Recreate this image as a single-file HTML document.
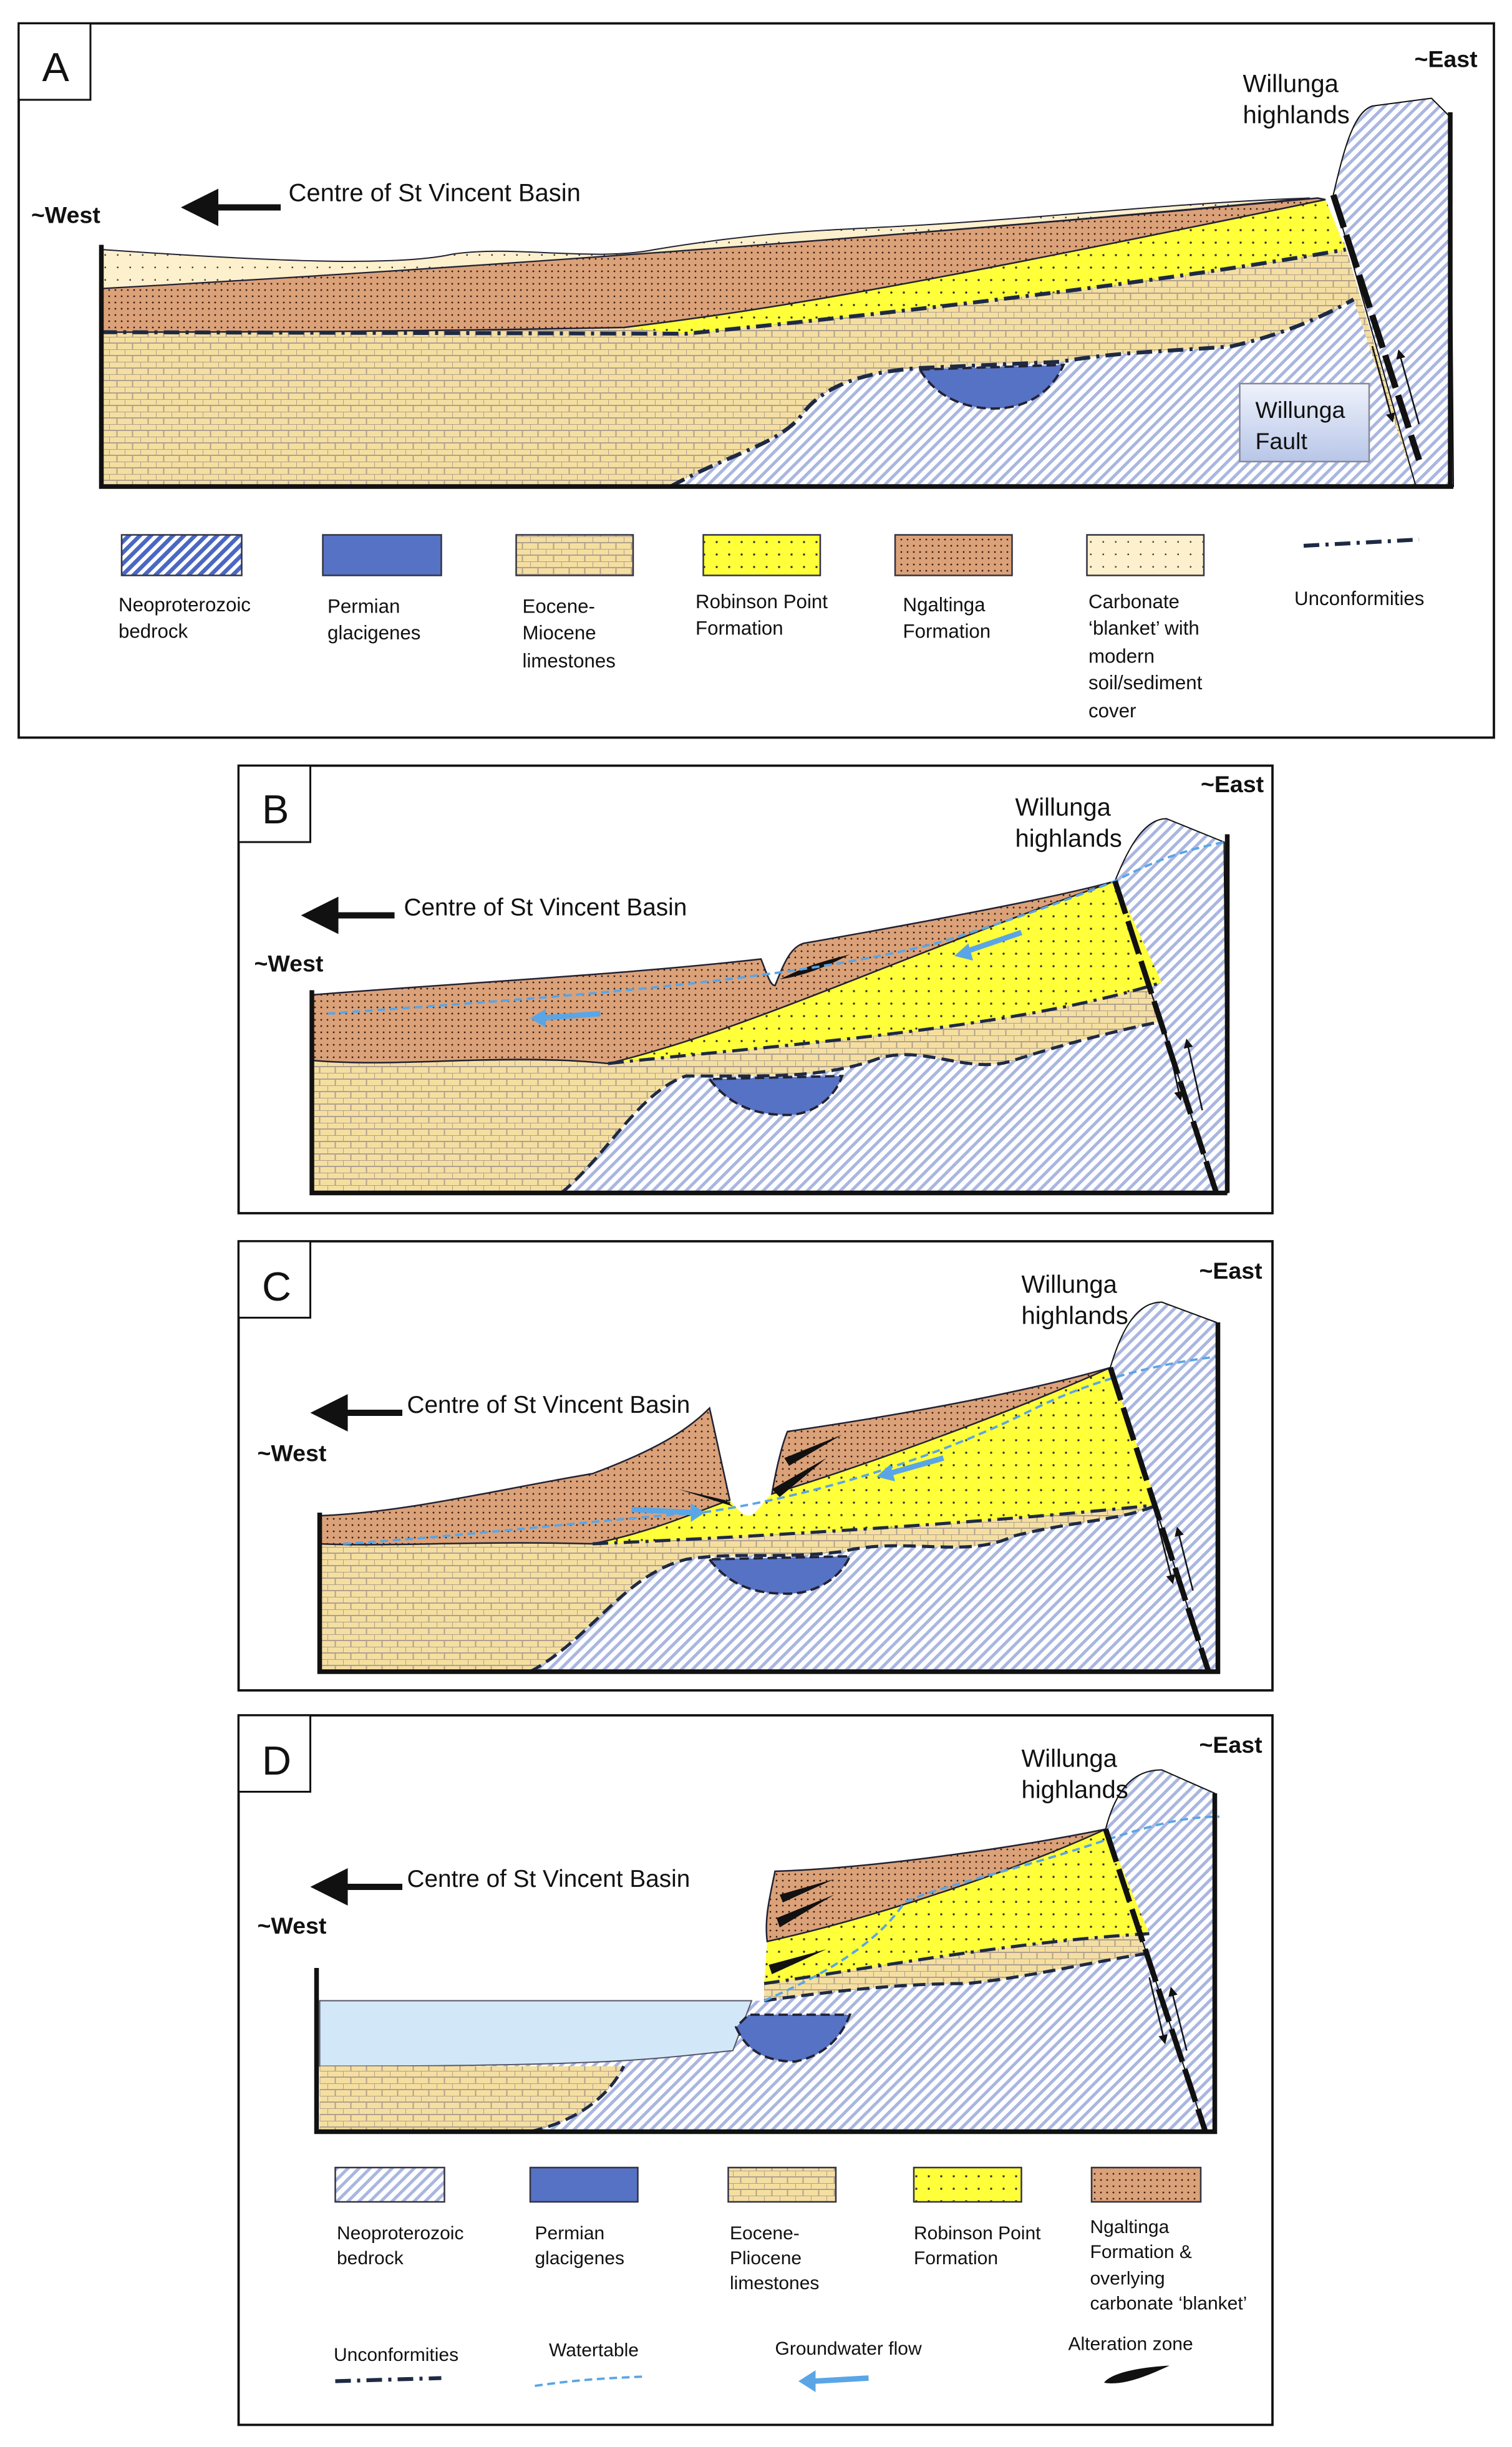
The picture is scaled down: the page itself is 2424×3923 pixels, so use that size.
<!DOCTYPE html>
<html><head><meta charset="utf-8"><style>
html,body{margin:0;padding:0;background:#fff}
svg{display:block}
text{font-family:"Liberation Sans",sans-serif;fill:#111}
</style></head><body>
<svg width="2424" height="3923" viewBox="0 0 969.6 1569.2" xmlns="http://www.w3.org/2000/svg">
<defs>
<pattern id="hat" patternUnits="userSpaceOnUse" width="5" height="5" patternTransform="rotate(45)">
<rect width="5" height="5" fill="#fff"/><rect width="2" height="5" fill="#a9b6e0"/></pattern>
<pattern id="hatd" patternUnits="userSpaceOnUse" width="5" height="5" patternTransform="rotate(45)">
<rect width="5" height="5" fill="#fff"/><rect width="2.6" height="5" fill="#4a67c2"/></pattern>
<pattern id="brk" patternUnits="userSpaceOnUse" width="10" height="8">
<rect width="10" height="8" fill="#f5dfa0"/>
<path d="M0 0H10M0 4H10M0 0V4M5 4V8" stroke="#b0a090" stroke-width="0.8" fill="none"/></pattern>
<pattern id="yel" patternUnits="userSpaceOnUse" width="8" height="8">
<rect width="8" height="8" fill="#ffff3a"/><rect x="3" y="3" width="1.2" height="1.2" fill="#222"/></pattern>
<pattern id="brn" patternUnits="userSpaceOnUse" width="4" height="4">
<rect width="4" height="4" fill="#dba27a"/><rect x="1.5" y="1.5" width="1" height="1" fill="#3a1a0a"/></pattern>
<pattern id="crm" patternUnits="userSpaceOnUse" width="8" height="8">
<rect width="8" height="8" fill="#fdf0cc"/><rect x="3" y="3" width="1" height="1" fill="#444"/></pattern>
<linearGradient id="fb" x1="0" y1="0" x2="0" y2="1"><stop offset="0" stop-color="#eef2fb"/><stop offset="1" stop-color="#b8c6e8"/></linearGradient>
<marker id="ah" markerWidth="6" markerHeight="6" refX="5" refY="3" orient="auto"><path d="M0,0 L6,3 L0,6 Z" fill="#111"/></marker>
</defs>

<!-- ================= PANEL A ================= -->
<rect x="12" y="15" width="946" height="458" fill="#fff" stroke="#111" stroke-width="1.5"/>
<rect x="12" y="15" width="46" height="49" fill="#fff" stroke="#111" stroke-width="1.2"/>
<text x="27" y="52" font-size="26">A</text>
<path d="M65,200 L862,155 L908,312 L65,312 Z" fill="url(#brk)"/>
<path d="M430,312 C470,290 500,285 515,265 C530,245 560,238 590,236 L680,232 C720,225 760,225 790,222 C820,215 845,205 868,192 L908,312 Z" fill="url(#hat)"/>
<path d="M590,237 C600,255 620,262 637,262 C660,262 675,250 682,234 Z" fill="#5672c4" stroke="#223" stroke-width="1.5" stroke-dasharray="6 3"/>
<path d="M855,125 C862,95 868,72 880,68 L918,63 L930,75 L932,312 L908,312 Z" fill="url(#hat)" stroke="#111" stroke-width="0.8"/>
<path d="M400,210 C500,198 600,180 850,128 L863,160 C750,180 600,198 440,214 Z" fill="url(#yel)"/>
<path d="M65,185 C300,172 600,150 845,127 L850,128 C600,180 500,198 400,210 C300,212 200,213 65,213 Z" fill="url(#brn)" stroke="#223" stroke-width="1"/>
<path d="M65,160 C150,166 250,172 290,163 C330,157 380,168 420,160 C480,150 520,148 560,146 C650,142 750,130 840,127 C600,150 300,172 65,185 Z" fill="url(#crm)" stroke="#223" stroke-width="0.8"/>
<path d="M65,213 L440,214 C600,198 750,180 863,160" fill="none" stroke="#1e2a44" stroke-width="2.5" stroke-dasharray="10 4 2 4"/>
<path d="M430,312 C470,290 500,285 515,265 C530,245 560,238 590,236 L680,232 C720,225 760,225 790,222 C820,215 845,205 868,192" fill="none" stroke="#1e2a44" stroke-width="2.5" stroke-dasharray="10 4 2 4"/>
<path d="M855,125 L910,295" stroke="#111" stroke-width="4" stroke-dasharray="22 5"/>
<path d="M65,157 V312 H932 M930,72 V312" fill="none" stroke="#111" stroke-width="3"/>
<path d="M880,222 L893,270" stroke="#111" stroke-width="1" marker-end="url(#ah)"/>
<path d="M910,272 L897,225" stroke="#111" stroke-width="1" marker-end="url(#ah)"/>
<rect x="795" y="246" width="83" height="50" fill="url(#fb)" stroke="#889" stroke-width="1"/>
<text x="805" y="268" font-size="15">Willunga</text><text x="805" y="288" font-size="15">Fault</text>
<text x="20" y="143" font-size="15" font-weight="bold">~West</text>
<text x="907" y="43" font-size="15" font-weight="bold">~East</text>
<text x="797" y="59" font-size="16">Willunga</text><text x="797" y="79" font-size="16">highlands</text>
<path d="M180,133 H120" stroke="#111" stroke-width="4" marker-end="url(#ah)"/>
<text x="185" y="129" font-size="16">Centre of St Vincent Basin</text>
<g stroke="#334" stroke-width="1">
<rect x="78" y="343" width="77" height="26" fill="url(#hatd)"/>
<rect x="207" y="343" width="76" height="26" fill="#5672c4"/>
<rect x="331" y="343" width="75" height="26" fill="url(#brk)"/>
<rect x="451" y="343" width="75" height="26" fill="url(#yel)"/>
<rect x="574" y="343" width="75" height="26" fill="url(#brn)"/>
<rect x="697" y="343" width="75" height="26" fill="url(#crm)"/>
</g>
<path d="M836,350 L910,346" stroke="#1e2a44" stroke-width="2.5" stroke-dasharray="10 4 2 4"/>
<g font-size="12.5">
<text x="76" y="392">Neoproterozoic</text><text x="76" y="409">bedrock</text>
<text x="210" y="393">Permian</text><text x="210" y="410">glacigenes</text>
<text x="335" y="393">Eocene-</text><text x="335" y="410">Miocene</text><text x="335" y="428">limestones</text>
<text x="446" y="390">Robinson Point</text><text x="446" y="407">Formation</text>
<text x="579" y="392">Ngaltinga</text><text x="579" y="409">Formation</text>
<text x="698" y="390">Carbonate</text><text x="698" y="407">‘blanket’ with</text><text x="698" y="425">modern</text><text x="698" y="442">soil/sediment</text><text x="698" y="460">cover</text>
<text x="830" y="388">Unconformities</text>
</g>

<!-- ================= PANEL B ================= -->
<rect x="153" y="491" width="663" height="287" fill="#fff" stroke="#111" stroke-width="1.5"/>
<rect x="153" y="491" width="46" height="49" fill="#fff" stroke="#111" stroke-width="1.2"/>
<text x="168" y="528" font-size="26">B</text>
<path d="M200,680 C260,685 320,675 390,682 L745,630 L780,765 L200,765 Z" fill="url(#brk)"/>
<path d="M360,765 C390,740 410,700 440,690 L470,690 C500,690 530,690 560,680 C590,668 620,690 650,680 C680,670 720,660 745,655 L780,765 Z" fill="url(#hat)"/>
<path d="M360,765 C390,740 410,700 440,690 L470,690 C500,690 530,690 560,680 C590,668 620,690 650,680 C680,670 720,660 745,655" fill="none" stroke="#1e2a44" stroke-width="2" stroke-dasharray="8 4"/>
<path d="M455,692 C470,712 490,715 505,715 C520,715 535,705 540,690 Z" fill="#5672c4" stroke="#223" stroke-width="1.5" stroke-dasharray="6 3"/>
<path d="M715,565 C725,540 735,525 748,525 L785,540 L787,765 L780,765 Z" fill="url(#hat)" stroke="#111" stroke-width="0.8"/>
<path d="M390,682 C480,660 560,620 715,565 L745,630 C650,660 500,670 390,682 Z" fill="url(#yel)"/>
<path d="M200,638 C300,630 400,625 488,615 C492,625 494,632 497,632 C502,620 506,608 515,605 C600,590 680,575 715,565 C560,620 480,660 390,682 C320,675 260,685 200,680 Z" fill="url(#brn)" stroke="#223" stroke-width="1"/>
<path d="M390,682 C500,670 650,660 745,630" fill="none" stroke="#1e2a44" stroke-width="2" stroke-dasharray="10 4 2 4"/>
<path d="M500,628 C520,618 530,616 545,612 C530,620 515,626 500,628 Z" fill="#111"/>
<path d="M210,650 C350,640 500,630 600,605 C650,590 690,575 715,565 C740,552 760,545 785,540" fill="none" stroke="#5aa5e6" stroke-width="1.5" stroke-dasharray="5 3"/>
<path d="M385,650 L345,653" stroke="#5aa5e6" stroke-width="3.5"/><path d="M340,653 L350,647 L350,659 Z" fill="#5aa5e6"/>
<path d="M655,598 L620,610" stroke="#5aa5e6" stroke-width="3.5"/><path d="M612,613 L621,605 L624,616 Z" fill="#5aa5e6"/>
<path d="M715,565 L780,765" stroke="#111" stroke-width="3.5" stroke-dasharray="22 5"/>
<path d="M200,635 V765 H787 M787,535 V765" fill="none" stroke="#111" stroke-width="3"/>
<path d="M747,660 L757,705" stroke="#111" stroke-width="1" marker-end="url(#ah)"/>
<path d="M771,712 L761,667" stroke="#111" stroke-width="1" marker-end="url(#ah)"/>
<text x="163" y="623" font-size="15" font-weight="bold">~West</text>
<text x="770" y="508" font-size="15" font-weight="bold">~East</text>
<text x="651" y="523" font-size="16">Willunga</text><text x="651" y="543" font-size="16">highlands</text>
<path d="M253,587 H197" stroke="#111" stroke-width="4" marker-end="url(#ah)"/>
<text x="259" y="587" font-size="15.5">Centre of St Vincent Basin</text>

<!-- ================= PANEL C ================= -->
<rect x="153" y="796" width="663" height="288" fill="#fff" stroke="#111" stroke-width="1.5"/>
<rect x="153" y="796" width="46" height="49" fill="#fff" stroke="#111" stroke-width="1.2"/>
<text x="168" y="834" font-size="26">C</text>
<path d="M205,990 L742,965 L775,1072 L205,1072 Z" fill="url(#brk)"/>
<path d="M340,1072 C380,1050 400,1010 440,1000 C470,995 500,1000 540,995 C580,985 620,1000 650,985 C690,975 720,975 742,965 L775,1072 Z" fill="url(#hat)"/>
<path d="M340,1072 C380,1050 400,1010 440,1000 C470,995 500,1000 540,995 C580,985 620,1000 650,985 C690,975 720,975 742,965" fill="none" stroke="#1e2a44" stroke-width="2" stroke-dasharray="8 4"/>
<path d="M455,1000 C470,1020 490,1022 505,1022 C525,1022 540,1010 545,998 Z" fill="#5672c4" stroke="#223" stroke-width="1.5" stroke-dasharray="6 3"/>
<path d="M712,877 C720,850 730,835 745,835 L780,848 L781,1072 L775,1072 Z" fill="url(#hat)" stroke="#111" stroke-width="0.8"/>
<path d="M380,990 C420,982 450,968 468,962 C473,968 476,972 481,972 C486,970 490,962 495,958 C560,938 650,905 712,877 L742,965 C650,975 500,985 380,990 Z" fill="url(#yel)"/>
<path d="M205,972 C260,970 320,955 380,945 C420,930 440,918 455,903 C460,925 465,948 468,962 C450,968 420,982 380,990 C300,988 250,992 205,990 Z" fill="url(#brn)" stroke="#223" stroke-width="1"/>
<path d="M495,958 C498,940 502,925 505,918 C560,910 650,895 712,877 C650,905 560,938 495,958 Z" fill="url(#brn)" stroke="#223" stroke-width="1"/>
<path d="M380,990 C500,985 650,975 742,965" fill="none" stroke="#1e2a44" stroke-width="2" stroke-dasharray="10 4 2 4"/>
<path d="M465,962 L435,955 L470,966 Z M495,955 L530,935 L500,960 Z M503,935 L540,920 L506,940 Z" fill="#111"/>
<path d="M220,990 C300,985 380,975 450,970 C520,960 600,935 660,905 C700,885 740,875 780,870" fill="none" stroke="#5aa5e6" stroke-width="1.5" stroke-dasharray="5 3"/>
<path d="M405,968 L445,970" stroke="#5aa5e6" stroke-width="3.5"/><path d="M452,970 L443,964 L443,976 Z" fill="#5aa5e6"/>
<path d="M605,935 L570,945" stroke="#5aa5e6" stroke-width="3.5"/><path d="M562,947 L571,939 L574,950 Z" fill="#5aa5e6"/>
<path d="M712,877 L775,1072" stroke="#111" stroke-width="3.5" stroke-dasharray="22 5"/>
<path d="M205,970 V1072 H781 V848" fill="none" stroke="#111" stroke-width="3"/>
<path d="M742,975 L752,1015" stroke="#111" stroke-width="1" marker-end="url(#ah)"/>
<path d="M765,1020 L755,980" stroke="#111" stroke-width="1" marker-end="url(#ah)"/>
<text x="165" y="937" font-size="15" font-weight="bold">~West</text>
<text x="769" y="820" font-size="15" font-weight="bold">~East</text>
<text x="655" y="829" font-size="16">Willunga</text><text x="655" y="849" font-size="16">highlands</text>
<path d="M258,906 H203" stroke="#111" stroke-width="4" marker-end="url(#ah)"/>
<text x="261" y="906" font-size="15.5">Centre of St Vincent Basin</text>

<!-- ================= PANEL D ================= -->
<rect x="153" y="1100" width="663" height="455" fill="#fff" stroke="#111" stroke-width="1.5"/>
<rect x="153" y="1100" width="46" height="49" fill="#fff" stroke="#111" stroke-width="1.2"/>
<text x="168" y="1138" font-size="26">D</text>
<path d="M205,1283 L490,1283 L490,1270 L737,1240 L773,1367 L205,1367 Z" fill="url(#hat)"/>
<path d="M205,1283 L482,1283 L470,1315 C420,1320 400,1325 205,1325 Z" fill="#d2e8f8" stroke="#556" stroke-width="0.8"/>
<path d="M205,1325 L400,1325 C390,1345 370,1360 340,1367 L205,1367 Z" fill="url(#brk)"/>
<path d="M340,1367 C370,1360 390,1345 400,1325" fill="none" stroke="#1e2a44" stroke-width="2" stroke-dasharray="8 4"/>
<path d="M490,1283 L490,1270 C560,1262 650,1245 737,1240 L740,1252 C700,1258 660,1268 620,1272 C580,1272 540,1276 490,1283 Z" fill="url(#brk)"/>
<path d="M490,1283 C540,1276 580,1272 620,1272 C660,1268 700,1258 740,1252" fill="none" stroke="#1e2a44" stroke-width="2" stroke-dasharray="8 4"/>
<path d="M472,1300 C480,1318 495,1322 510,1322 C530,1318 540,1305 545,1292 L480,1292 Z" fill="#5672c4" stroke="#223" stroke-width="1.5" stroke-dasharray="6 3"/>
<path d="M709,1173 C715,1150 725,1135 745,1135 L779,1150 L779,1367 L773,1367 Z" fill="url(#hat)" stroke="#111" stroke-width="0.8"/>
<path d="M490,1272 L492,1245 C560,1230 650,1200 709,1173 L737,1240 C650,1245 560,1262 490,1272 Z" fill="url(#yel)"/>
<path d="M497,1200 C560,1198 650,1185 709,1173 C650,1200 560,1230 492,1245 C490,1230 494,1215 497,1200 Z" fill="url(#brn)" stroke="#223" stroke-width="1"/>
<path d="M490,1272 C560,1262 650,1245 737,1240" fill="none" stroke="#1e2a44" stroke-width="2" stroke-dasharray="10 4 2 4"/>
<path d="M498,1230 L535,1215 L500,1236 Z M493,1260 L530,1250 L495,1266 Z M500,1215 L535,1205 L502,1220 Z" fill="#111"/>
<path d="M490,1283 C520,1270 560,1250 580,1220 C600,1210 650,1200 709,1180 C740,1170 760,1165 782,1165" fill="none" stroke="#5aa5e6" stroke-width="1.5" stroke-dasharray="5 3"/>
<path d="M709,1173 L773,1367" stroke="#111" stroke-width="3.5" stroke-dasharray="22 5"/>
<path d="M203,1262 V1367 H779 V1150" fill="none" stroke="#111" stroke-width="3"/>
<path d="M737,1268 L747,1310" stroke="#111" stroke-width="1" marker-end="url(#ah)"/>
<path d="M761,1315 L751,1275" stroke="#111" stroke-width="1" marker-end="url(#ah)"/>
<text x="165" y="1240" font-size="15" font-weight="bold">~West</text>
<text x="769" y="1124" font-size="15" font-weight="bold">~East</text>
<text x="655" y="1133" font-size="16">Willunga</text><text x="655" y="1153" font-size="16">highlands</text>
<path d="M258,1210 H203" stroke="#111" stroke-width="4" marker-end="url(#ah)"/>
<text x="261" y="1210" font-size="15.5">Centre of St Vincent Basin</text>
<g stroke="#334" stroke-width="1">
<rect x="215" y="1390" width="70" height="22" fill="url(#hat)"/>
<rect x="340" y="1390" width="69" height="22" fill="#5672c4"/>
<rect x="467" y="1390" width="69" height="22" fill="url(#brk)"/>
<rect x="586" y="1390" width="69" height="22" fill="url(#yel)"/>
<rect x="700" y="1390" width="70" height="22" fill="url(#brn)"/>
</g>
<g font-size="12">
<text x="216" y="1436">Neoproterozoic</text><text x="216" y="1452">bedrock</text>
<text x="343" y="1436">Permian</text><text x="343" y="1452">glacigenes</text>
<text x="468" y="1436">Eocene-</text><text x="468" y="1452">Pliocene</text><text x="468" y="1468">limestones</text>
<text x="586" y="1436">Robinson Point</text><text x="586" y="1452">Formation</text>
<text x="699" y="1432">Ngaltinga</text><text x="699" y="1448">Formation &amp;</text><text x="699" y="1465">overlying</text><text x="699" y="1481">carbonate ‘blanket’</text>
<text x="214" y="1514">Unconformities</text>
<text x="352" y="1511">Watertable</text>
<text x="497" y="1510">Groundwater flow</text>
<text x="685" y="1507">Alteration zone</text>
</g>
<path d="M215,1527 L283,1525" stroke="#1e2a44" stroke-width="2.5" stroke-dasharray="10 4 2 4"/>
<path d="M343,1530 C370,1526 390,1525 414,1524" fill="none" stroke="#5aa5e6" stroke-width="1.5" stroke-dasharray="5 3"/>
<path d="M557,1525 L522,1527" stroke="#5aa5e6" stroke-width="3.5"/><path d="M512,1527 L523,1520 L523,1534 Z" fill="#5aa5e6"/>
<path d="M708,1528 C712,1522 730,1518 750,1517 C735,1524 720,1530 708,1528 Z" fill="#111"/>
</svg>
</body></html>
